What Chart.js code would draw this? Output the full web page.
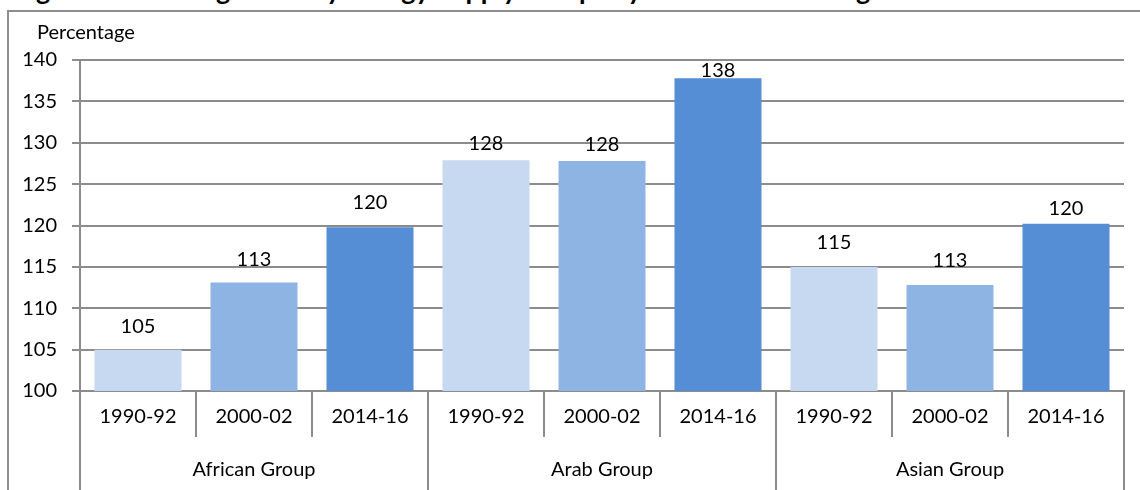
<!DOCTYPE html>
<html><head><meta charset="utf-8">
<script src="https://cdn.jsdelivr.net/npm/chart.js@4"></script>
<style>
html,body{margin:0;padding:0;background:#fff;overflow:hidden;}
body{width:1140px;height:490px;position:relative;font-family:Lato,sans-serif;}
#frame{position:absolute;left:7px;top:10px;width:1300px;height:700px;border:2px solid #8e8e8e;box-sizing:border-box;}
#title{position:absolute;left:14px;top:-24px;font:bold 27px/27px Lato,sans-serif;white-space:nowrap;color:#000;}
#ytitle{position:absolute;left:37px;top:21px;font:20px/20px Lato,sans-serif;color:#000;}
#wrap{position:absolute;left:0;top:0;width:1140px;height:490px;}
</style></head>
<body>
<div id="title">Figure 2.4: Average Dietary Energy Supply Adequacy in the OIC Sub-regions</div>
<div id="frame"></div>
<div id="wrap"><canvas id="c"></canvas></div>
<div id="ytitle">Percentage</div>
<script>
const groups = ['African Group', 'Arab Group', 'Asian Group'];
const periods = ['1990-92', '2000-02', '2014-16'];
const categories = ['1990-92', '2000-02', '2014-16', '1990-92', '2000-02', '2014-16', '1990-92', '2000-02', '2014-16'];
const values = [105.0, 113.1, 119.8, 127.9, 127.8, 137.8, 115.0, 112.8, 120.2];
const yMin = 100, yMax = 140, yStep = 5;

const periodColors = ['#C6D9F1', '#8EB4E3', '#558ED5'];
const LINE = '#8c8c8c';
const FONT = {family: 'Lato, sans-serif', size: 20};
const labelGap = [17, 17, 18, 10, 10, 17, 18, 18, 9];

const groupAxis = {
  id: 'groupAxis',
  afterDraw(chart) {
    const {ctx, chartArea: a, scales: {x}} = chart;
    const n = categories.length;
    const px = i => x.getPixelForValue(i);
    const edge = i => i === 0 ? a.left : i === n ? a.right : (px(i - 1) + px(i)) / 2;
    ctx.save();
    ctx.strokeStyle = LINE; ctx.lineWidth = 2;
    for (let i = 0; i <= n; i++) {
      const isGroup = i % periods.length === 0;
      const y2 = isGroup ? chart.height : a.bottom + 46;
      const xx = Math.round(edge(i));
      ctx.beginPath(); ctx.moveTo(xx, a.bottom); ctx.lineTo(xx, y2); ctx.stroke();
    }
    ctx.fillStyle = '#000';
    ctx.font = FONT.size + 'px ' + FONT.family;
    ctx.textAlign = 'center'; ctx.textBaseline = 'alphabetic';
    groups.forEach((g, gi) => {
      const l = edge(gi * periods.length), r = edge((gi + 1) * periods.length);
      ctx.fillText(g, (l + r) / 2, a.bottom + 85);
    });
    const meta = chart.getDatasetMeta(0);
    meta.data.forEach((bar, i) => {
      const y = Math.max(bar.y - labelGap[i], a.top + 17);
      ctx.fillText(String(Math.round(values[i])), bar.x, y);
    });
    ctx.restore();
  }
};

new Chart(document.getElementById('c'), {
  type: 'bar',
  data: {
    labels: categories,
    datasets: [{
      data: values,
      backgroundColor: categories.map((c, i) => periodColors[i % periods.length]),
      borderWidth: 0,
      barPercentage: 0.75,
      categoryPercentage: 1.0
    }]
  },
  options: {
    responsive: true,
    maintainAspectRatio: false,
    animation: false,
    layout: {padding: {top: 60, right: 16, left: 0, bottom: 0}},
    plugins: {legend: {display: false}, tooltip: {enabled: false}, title: {display: false}},
    scales: {
      x: {
        grid: {display: false},
        border: {display: true, color: LINE, width: 2},
        ticks: {font: FONT, color: '#000', padding: 6, maxRotation: 0, autoSkip: false},
        afterFit: s => { s.height = 99; }
      },
      y: {
        min: yMin, max: yMax,
        ticks: {stepSize: yStep, font: FONT, color: '#000', padding: 15},
        grid: {color: LINE, lineWidth: 2, tickLength: 8},
        border: {display: true, color: LINE, width: 2},
        afterFit: s => { s.width = 80; }
      }
    }
  },
  plugins: [groupAxis]
});
</script>
</body></html>
